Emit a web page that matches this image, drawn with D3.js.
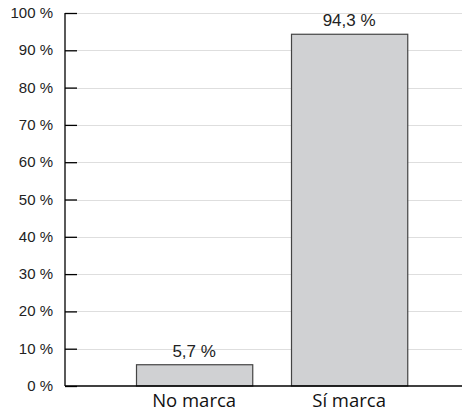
<!DOCTYPE html>
<html>
<head>
<meta charset="utf-8">
<script src="https://cdn.jsdelivr.net/npm/d3@7"></script>
<style>
  html, body { margin: 0; padding: 0; background: #fff; }
  svg { display: block; }
</style>
</head>
<body>
<svg id="chart" width="462" height="412"></svg>
<script>
// Share of responses by brand mention
const categories = ["No marca", "Sí marca"];
const values = [5.7, 94.3];
const tickValues = [0, 10, 20, 30, 40, 50, 60, 70, 80, 90, 100];

const svg = d3.select("#chart");
const W = 462;
const axisX = 65, plotTop = 13, plotBottom = 386;

const y = d3.scaleLinear().domain([0, 100]).range([plotBottom, plotTop]);
const x = d3.scaleBand().domain(categories).range([97.25, 446]).paddingInner(0.25).paddingOuter(0.25);

const fmt = v => d3.format(".1f")(v).replace(".", ",") + " %";

// horizontal gridlines
svg.append("g").selectAll("line").data(tickValues.filter(d => d > 0)).join("line")
  .attr("x1", axisX).attr("x2", W)
  .attr("y1", d => Math.round(y(d)) + 0.5).attr("y2", d => Math.round(y(d)) + 0.5)
  .attr("stroke", "#dedede").attr("stroke-width", 1);

// y axis with inward ticks
const yAxis = d3.axisRight(y).tickValues(tickValues).tickSize(12).tickFormat("");
const ga = svg.append("g").attr("transform", `translate(${axisX},0)`).call(yAxis);
ga.select(".domain").remove();
ga.selectAll(".tick line").attr("stroke", "#000").attr("stroke-width", 1.3);
svg.append("line").attr("x1", axisX).attr("x2", axisX).attr("y1", y(100)).attr("y2", y(0))
  .attr("stroke", "#000").attr("stroke-width", 1.3);

// tick labels
svg.append("g").selectAll("text").data(tickValues).join("text")
  .attr("x", 53).attr("y", d => y(d) + 5)
  .attr("text-anchor", "end")
  .attr("font-family", "'Liberation Sans', Arial, sans-serif")
  .attr("font-size", 15).attr("fill", "#222")
  .text(d => d + " %");

// bars
svg.append("g").selectAll("rect").data(values).join("rect")
  .attr("x", (d, i) => x(categories[i]) + 0.5)
  .attr("y", d => y(d))
  .attr("width", x.bandwidth())
  .attr("height", d => y(0) - y(d))
  .attr("fill", "#d0d1d3").attr("stroke", "#444").attr("stroke-width", 1.2);

// baseline
svg.append("line").attr("x1", axisX).attr("x2", W).attr("y1", y(0)).attr("y2", y(0))
  .attr("stroke", "#000").attr("stroke-width", 1.3);

// value labels
svg.append("g").selectAll("text").data(values).join("text")
  .attr("x", (d, i) => x(categories[i]) + x.bandwidth() / 2)
  .attr("y", d => y(d) - 8)
  .attr("text-anchor", "middle")
  .attr("font-family", "'Liberation Sans', Arial, sans-serif")
  .attr("font-size", 17).attr("fill", "#222")
  .text(d => fmt(d));

// category labels
svg.append("g").selectAll("text").data(categories).join("text")
  .attr("x", d => x(d) + x.bandwidth() / 2)
  .attr("y", 407)
  .attr("text-anchor", "middle")
  .attr("font-family", "'Open Sans', sans-serif")
  .attr("font-size", 18.5).attr("fill", "#111")
  .text(d => d);
</script>
</body>
</html>
